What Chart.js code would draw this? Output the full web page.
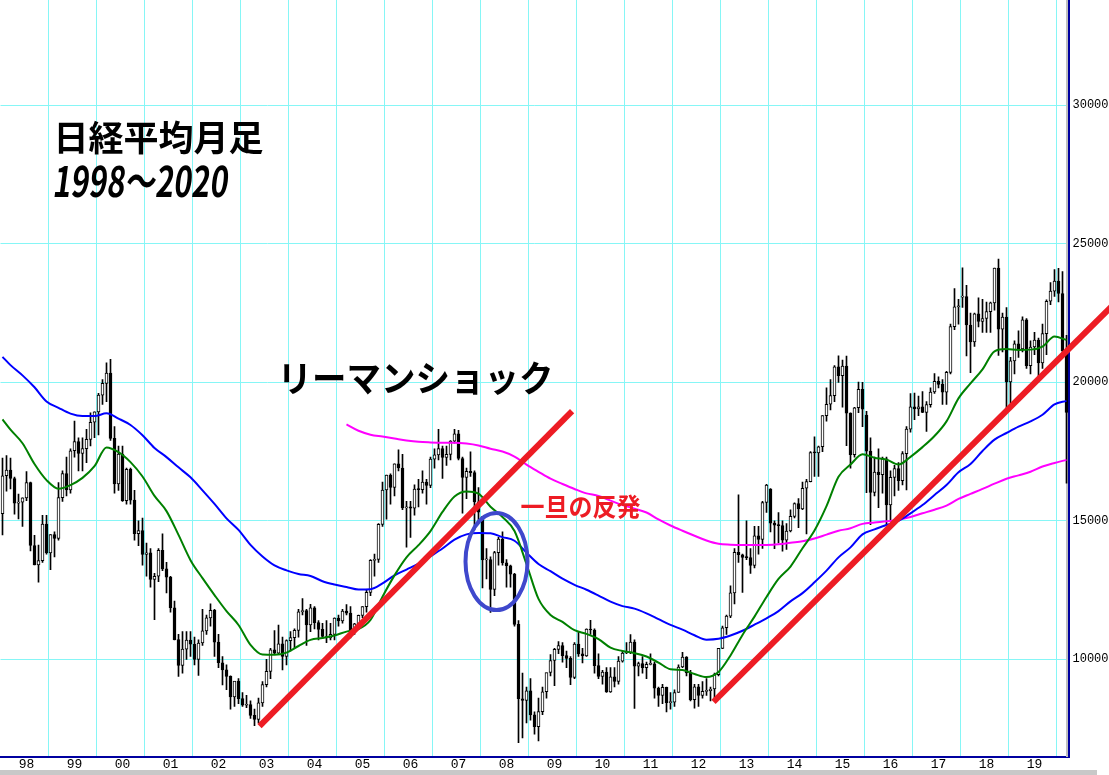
<!DOCTYPE html>
<html><head><meta charset="utf-8">
<script src="https://cdn.jsdelivr.net/npm/chart.js@4.4.1/dist/chart.umd.min.js"></script>
<style>html,body{margin:0;padding:0;background:#fff;overflow:hidden}canvas{display:block}</style>
</head><body><canvas id="c" width="1109" height="775" style="width:1109px;height:775px"></canvas>
<script>
// ---- monthly Nikkei 225 candles, Jan 1998 .. Mar 2020 ----
const openP = [
 15259,16628,16831,16527,15641,15671,15830,16379,14108,13406,13564,14883, // 1998
 13842,14499,14367,15837,16701,16112,17530,17862,17437,17605,17942,18558, // 1999
 18934,19540,19960,20337,17974,16332,17411,15727,16861,15747,14539,14649, // 2000
 13786,13844,12884,12999,13934,13262,12969,11861,10713,9775,10366,10697,  // 2001
 10543,9997,10588,11025,11493,11764,10621,9877,9619,9383,8640,9216,       // 2002
 8579,8340,8363,7973,7831,8425,9083,9563,10344,10219,10560,10101,         // 2003
 10677,10784,11042,11715,11762,11237,11859,11326,11082,10824,10771,10899, // 2004
 11489,11388,11741,11669,11009,11277,11584,11900,12414,13574,13607,14872, // 2005
 16111,16650,16206,17060,16906,15468,15505,15457,16141,16128,16399,16274, // 2006
 17226,17383,17604,17288,17400,17876,18138,17248,16569,16786,16738,15681, // 2007
 15155,13592,13603,12526,13850,14339,13481,13377,13073,11260,8577,8512,   // 2008
 8860,7994,7568,8110,8828,9523,9958,10357,10493,10133,10035,9346,         // 2009
 10546,10198,10126,11090,11057,9769,9383,9537,8824,9369,9202,9937,        // 2010
 10229,10238,10624,9755,9850,9694,9816,9833,8955,8700,8988,8435,          // 2011
 8455,8803,9723,10084,9521,8543,9007,8695,8840,8870,8928,9446,            // 2012
 10395,11139,11559,12398,13861,13775,13677,13668,13389,14456,14328,15662, // 2013
 16147,14915,14841,14828,14304,14632,15162,15621,15425,16174,16414,17460, // 2014
 17451,17674,18798,19207,19520,20563,20236,20585,18890,17388,19083,19747, // 2015
 18818,17518,16027,16759,16666,17235,15576,16569,16887,16450,17425,18308, // 2016
 19114,19041,19119,18909,19197,19651,20033,19925,19646,20356,22012,22725, // 2017
 23073,23098,22068,21454,22468,22202,22305,22554,22865,24120,21920,22351, // 2018
 20015,20773,21385,21206,22259,20601,21276,21521,20704,21756,22927,23294, // 2019
 23657,23205,21143                                                        // 2020
];
const highP = [
 17264,17352,17264,16581,15967,15830,16780,16394,14480,14120,15200,15200,
 14500,14600,16378,16800,17300,17600,18600,18000,18000,18300,18900,18934,
 19600,20100,20700,20833,18400,17700,17700,16900,16900,16100,15000,15100,
 14200,14000,13100,14000,14529,13500,13000,12100,10900,11000,11000,11000,
 10800,10700,11800,11600,12000,11800,10900,10100,9800,9400,9200,9300,
 8800,8700,8500,8200,8600,9200,10000,10400,11033,11238,10800,10700,
 11000,11100,11800,12195,11800,11988,11900,11400,11300,11400,11300,11500,
 11600,11800,11975,11900,11300,11600,11900,12500,13600,13800,14900,16400,
 16650,16700,17060,17563,17400,15700,15700,16300,16500,16800,16500,17300,
 17600,18300,17700,17700,17900,18300,18262,17300,16900,17488,16800,16200,
 15156,14000,13700,13900,14400,14600,13600,13400,13100,11400,9500,9000,
 9300,8100,8600,9000,9500,10171,10400,10640,10600,10300,10100,10600,
 10982,10400,11100,11408,11100,10200,9600,9700,9700,9700,10100,10300,
 10600,10891,10700,9900,10100,9900,10200,9900,9000,9100,9000,8800,
 8900,9800,10255,10100,9600,9100,9100,9200,9300,9000,9500,10400,
 11200,11600,12650,14000,15942,13800,15000,14000,14800,14800,15700,16320,
 16164,15000,15300,15000,14900,15400,15650,15800,16400,16500,17500,18030,
 17700,18800,19800,20100,20600,20952,20800,20946,18900,19100,20012,20000,
 18951,18000,17300,17600,17300,17300,16800,17000,17100,17500,18400,19592,
 19615,19500,19668,19300,19800,20318,20200,20100,20400,22100,23382,23000,
 24129,23500,22500,22500,23050,23000,22900,22900,24120,24448,22500,22700,
 20900,21500,21860,22362,22300,21500,21800,21600,22100,22974,23600,24066,
 24115,24000,21700
];
const lowP = [
 14489,16066,16153,15242,15067,14800,15724,13915,13406,12787,13500,13800,
 13232,13700,14300,15700,15900,16000,17300,16800,16800,17100,17700,18000,
 18100,19200,19300,17900,16000,16100,15700,15600,15600,14300,14100,13400,
 13000,12600,11433,12800,13200,12400,11700,10700,9382,9500,10000,10100,
 9800,9420,10500,10900,11200,10100,9700,9075,8900,8197,8300,8400,
 8300,8250,7863,7608,7700,8300,9000,9300,10200,10200,9614,9800,
 10300,10400,10800,11600,10505,11000,11100,10700,10800,10600,10700,10700,
 11200,11300,11600,10770,10900,11100,11500,11700,12300,13000,13500,14800,
 15059,15600,15900,16800,15400,14045,14400,15200,15500,16000,15600,16200,
 16900,17200,16532,17000,17200,17800,17200,15273,15800,16600,14669,15000,
 12573,12900,11691,12300,13400,13400,12600,12600,11200,6994,7162,7700,
 7800,7300,7055,8000,8600,9400,9050,10200,9900,9700,9081,9300,
 10100,9867,10100,10900,9500,9300,9100,8800,8800,9000,9100,9900,
 10200,10200,8227,9400,9500,9300,9800,8600,8300,8400,8100,8200,
 8300,8800,9700,9400,8500,8238,8300,8600,8700,8500,8600,9400,
 10380,10900,11500,12000,13500,12415,13600,13100,13300,13800,14000,15300,
 14600,13995,14200,13900,13964,14600,15100,14750,15400,14529,16400,16600,
 16600,17500,18600,19000,19300,20000,19100,17714,16901,17300,18900,18400,
 16017,14865,15900,15471,16000,14864,15000,15900,16100,16300,16111,18200,
 18650,18800,18900,18224,19100,19600,19800,19200,19200,20300,21900,22100,
 22700,20950,20347,21300,22000,21800,21800,21800,22600,20971,21100,18949,
 19241,20300,20900,21100,20500,20300,21000,20110,20500,21000,22800,23100,
 22900,20900,16358
];
const closeP = [
 16628,16831,16527,15641,15671,15830,16379,14108,13406,13564,14883,13842,
 14499,14367,15837,16701,16112,17530,17862,17437,17605,17942,18558,18934,
 19540,19960,20337,17974,16332,17411,15727,16861,15747,14539,14649,13786,
 13844,12884,12999,13934,13262,12969,11861,10713,9775,10366,10697,10543,
 9997,10588,11025,11493,11764,10621,9877,9619,9383,8640,9216,8579,
 8340,8363,7973,7831,8425,9083,9563,10344,10219,10560,10101,10677,
 10784,11042,11715,11762,11237,11859,11326,11082,10824,10771,10899,11489,
 11388,11741,11669,11009,11277,11584,11900,12414,13574,13607,14872,16111,
 16650,16206,17060,16906,15468,15505,15457,16141,16128,16399,16274,17226,
 17383,17604,17288,17400,17876,18138,17248,16569,16786,16738,15681,15308,
 13592,13603,12526,13850,14339,13481,13377,13073,11260,8577,8512,8860,
 7994,7568,8110,8828,9523,9958,10357,10493,10133,10035,9346,10546,
 10198,10126,11090,11057,9769,9383,9537,8824,9369,9202,9937,10229,
 10238,10624,9755,9850,9694,9816,9833,8955,8700,8988,8435,8455,
 8803,9723,10084,9521,8543,9007,8695,8840,8870,8928,9446,10395,
 11139,11559,12398,13861,13775,13677,13668,13389,14456,14328,15662,16291,
 14915,14841,14828,14304,14632,15162,15621,15425,16174,16414,17460,17451,
 17674,18798,19207,19520,20563,20236,20585,18890,17388,19083,19747,19034,
 17518,16027,16759,16666,17235,15576,16569,16887,16450,17425,18308,19114,
 19041,19119,18909,19197,19651,20033,19925,19646,20356,22012,22725,22765,
 23098,22068,21454,22468,22202,22305,22554,22865,24120,21920,22351,20015,
 20773,21385,21206,22259,20601,21276,21521,20704,21756,22927,23294,23657,
 23205,21143,18917
];

// ---- moving-average lines, read at sample months (index 0, then every 3rd month from index 2) ----
const maGreen = [
 18660,18290,17800,17050,16470,16160,16290,16550,16970,17650,
 17480,17120,16600,15900,15350,14490,13580,12930,12320,11740,
 11240,10520,10170,10160,10240,10480,10700,10770,10860,11000,
 11090,11420,12260,13030,13680,14120,14630,15320,15880,16060,
 15980,15510,15140,14630,13440,12180,11600,11350,11050,10920,
 10730,10420,10300,10220,10100,9880,9640,9610,9470,9360,
 9540,10140,10880,11540,12250,12900,13350,14010,14650,15530,
 16590,17030,17400,17280,17210,17030,17310,17660,18060,18590,
 19420,19960,20470,21120,21200,21170,21180,21290,21650,21530
];
const maBlue = [
 20920,20620,20250,19820,19310,19080,18870,18780,18780,18880,
 18690,18460,18090,17630,17300,16930,16570,16100,15610,15090,
 14670,14130,13710,13390,13210,13080,13010,12820,12700,12610,
 12520,12530,12740,13030,13240,13450,13720,14000,14320,14510,
 14560,14550,14410,14280,13850,13440,13180,12910,12690,12510,
 12300,12080,11920,11830,11660,11450,11240,11070,10870,10710,
 10740,10860,11030,11250,11480,11740,12090,12390,12780,13200,
 13680,14040,14510,14690,14850,15000,15270,15570,15930,16290,
 16750,17050,17520,17930,18170,18400,18590,18830,19200,19330
];
// magenta line starts at the 30th sample month (2005-03)
const maMagenta = [
 18480,18250,18110,18040,17970,17900,17850,17830,17820,17820,
 17790,17720,17600,17500,17320,17030,16770,16520,16330,16150,
 15990,15900,15730,15570,15440,15300,15050,14830,14640,14460,
 14290,14170,14140,14130,14130,14130,14150,14210,14260,14360,
 14500,14640,14730,14890,14940,14980,15040,15140,15270,15400,
 15550,15790,15970,16150,16340,16520,16640,16770,16960,17090,
 17200
];
const magentaFirstSample = 29;

// ---- axis ticks ----
const yearLabels = ['98','99','00','01','02','03','04','05','06','07','08','09','10','11','12','13','14','15','16','17','18','19'];
const yTickValues = [10000, 15000, 20000, 25000, 30000];

// ---- annotations (month index, price) ----
const trendLines = [
  {from: [64.25, 7590], to: [142.4, 18960]},
  {from: [177.75, 8460], to: [277.4, 22760]}
];
const reboundCircle = {center: [123.5, 13530], rxMonths: 7.75, ryPrice: 1750};
const noteTexts = [
  {text: 'リーマンショック', at: [103.25, 20160], width: 276, size: 36, color: '#000000'},
  {text: '一旦の反発', at: [144.5, 15534], width: 120, size: 25, color: '#ED1C24'}
];
const titleLines = [
  {text: '日経平均月足', cx: 158, cy: 138, width: 210, size: 35, skew: 0},
  {text: '1998～2020', cx: 141, cy: 181, width: 175, size: 42, skew: -0.13}
];

// ---- build library data ----
const months = [];
for (let y = 1998; y <= 2020; y++) for (let m = 1; m <= 12; m++) {
  if (months.length < openP.length) months.push(y + '-' + String(m).padStart(2, '0'));
}
const sampleIdx = [0];
for (let i = 2; i < months.length; i += 3) sampleIdx.push(i);

const wicks = months.map((m, i) => [lowP[i], highP[i]]);
const bodies = months.map((m, i) => [openP[i], closeP[i]]);
const greenData = maGreen.map((v, k) => ({x: months[sampleIdx[k]], y: v}));
const blueData = maBlue.map((v, k) => ({x: months[sampleIdx[k]], y: v}));
const magentaData = maMagenta.map((v, k) => ({x: months[sampleIdx[k + magentaFirstSample]], y: v}));

const GRID = '#86F6F6';
const AXIS = '#0000A0';

const annot = {
  id: 'annot',
  beforeDatasetsDraw(chart) {
    const {ctx, chartArea, scales} = chart;
    const px = Math.round(scales.x.getPixelForValue(months.length - 1));
    ctx.save();
    ctx.strokeStyle = '#C0C0C0';
    ctx.lineWidth = 2;
    ctx.beginPath();
    ctx.moveTo(px, chartArea.top);
    ctx.lineTo(px, chartArea.bottom);
    ctx.stroke();
    ctx.restore();
  },
  afterDraw(chart) {
    const {ctx, scales: {x, y}, chartArea} = chart;
    ctx.save();
    ctx.fillStyle = '#C8C8C8';
    ctx.fillRect(0, 770, 1097, 5);
    const fit = (t, cx, cy, size, width, skew, color) => {
      ctx.save();
      ctx.font = 'bold ' + size + 'px "Noto Sans CJK JP", sans-serif';
      ctx.textAlign = 'center';
      ctx.textBaseline = 'middle';
      ctx.fillStyle = color;
      const w = ctx.measureText(t).width;
      ctx.translate(cx, cy);
      ctx.transform(width / w, 0, skew, 1, 0, 0);
      ctx.fillText(t, 0, 0);
      ctx.restore();
    };
    titleLines.forEach(t => fit(t.text, chartArea.left + t.cx, chartArea.top + t.cy, t.size, t.width, t.skew, '#000'));
    noteTexts.forEach(t => fit(t.text, x.getPixelForValue(t.at[0]), y.getPixelForValue(t.at[1]), t.size, t.width, 0, t.color));
    const cx = x.getPixelForValue(reboundCircle.center[0]);
    const cy = y.getPixelForValue(reboundCircle.center[1]);
    const rx = x.getPixelForValue(reboundCircle.center[0] + reboundCircle.rxMonths) - cx;
    const ry = cy - y.getPixelForValue(reboundCircle.center[1] + reboundCircle.ryPrice);
    ctx.strokeStyle = '#3F48CC';
    ctx.lineWidth = 4;
    ctx.beginPath();
    ctx.ellipse(cx, cy, rx, ry, 0, 0, Math.PI * 2);
    ctx.stroke();
    ctx.strokeStyle = '#ED1C24';
    ctx.lineWidth = 6;
    ctx.lineCap = 'butt';
    trendLines.forEach(l => {
      ctx.beginPath();
      ctx.moveTo(x.getPixelForValue(l.from[0]), y.getPixelForValue(l.from[1]));
      ctx.lineTo(x.getPixelForValue(l.to[0]), y.getPixelForValue(l.to[1]));
      ctx.stroke();
    });
    ctx.restore();
  }
};

const zeroPad = s => { s.paddingLeft = 0; s.paddingRight = 0; s.paddingTop = 0; s.paddingBottom = 0; };
const xTickFont = {family: "'Liberation Mono', monospace", size: 13};
const yTickFont = {family: "'Liberation Mono', monospace", size: 12};

new Chart(document.getElementById('c'), {
  type: 'bar',
  data: {
    labels: months,
    datasets: [
      {type: 'line', data: greenData, borderColor: '#008000', borderWidth: 2, pointRadius: 0, cubicInterpolationMode: 'monotone', order: 1},
      {type: 'line', data: blueData, borderColor: '#0000FF', borderWidth: 2, pointRadius: 0, cubicInterpolationMode: 'monotone', order: 1},
      {type: 'line', data: magentaData, borderColor: '#FF00FF', borderWidth: 2, pointRadius: 0, cubicInterpolationMode: 'monotone', order: 1},
      {type: 'bar', data: bodies, grouped: false, barThickness: 3, minBarLength: 1, borderWidth: 1, borderSkipped: false,
       borderColor: '#000000',
       backgroundColor: c => (c.raw && c.raw[1] >= c.raw[0]) ? '#FFFFFF' : '#000000', order: 2},
      {type: 'bar', data: wicks, grouped: false, barThickness: 1, borderWidth: 0, backgroundColor: '#000000', order: 3}
    ]
  },
  options: {
    responsive: false,
    devicePixelRatio: 1,
    animation: false,
    events: [],
    layout: {padding: {left: 0.5, top: 0, right: 0, bottom: 0}},
    plugins: {legend: {display: false}, tooltip: {enabled: false}},
    scales: {
      x: {
        type: 'category',
        offset: true,
        grid: {offset: true, drawTicks: false, lineWidth: 1,
               color: c => (c.index !== undefined && c.index > 0 && c.index % 12 === 0) ? GRID : 'rgba(0,0,0,0)'},
        border: {display: true, color: AXIS, width: 2},
        ticks: {autoSkip: false, maxRotation: 0, minRotation: 0, padding: 0, color: '#000', font: xTickFont,
                callback: (v, i) => (i % 12 === 6 && yearLabels[(i - 6) / 12]) ? yearLabels[(i - 6) / 12] : ''},
        afterFit: s => { s.height = 18; zeroPad(s); }
      },
      y: {
        position: 'right',
        min: 6473, max: 33802,
        grid: {color: GRID, drawTicks: false, lineWidth: 1},
        border: {display: true, color: AXIS, width: 2},
        ticks: {padding: 4, color: '#000', font: yTickFont, callback: v => String(v)},
        afterBuildTicks: s => { s.ticks = yTickValues.map(v => ({value: v})); },
        afterFit: s => { s.width = 40.5; zeroPad(s); }
      }
    }
  },
  plugins: [annot]
});
</script></body></html>
